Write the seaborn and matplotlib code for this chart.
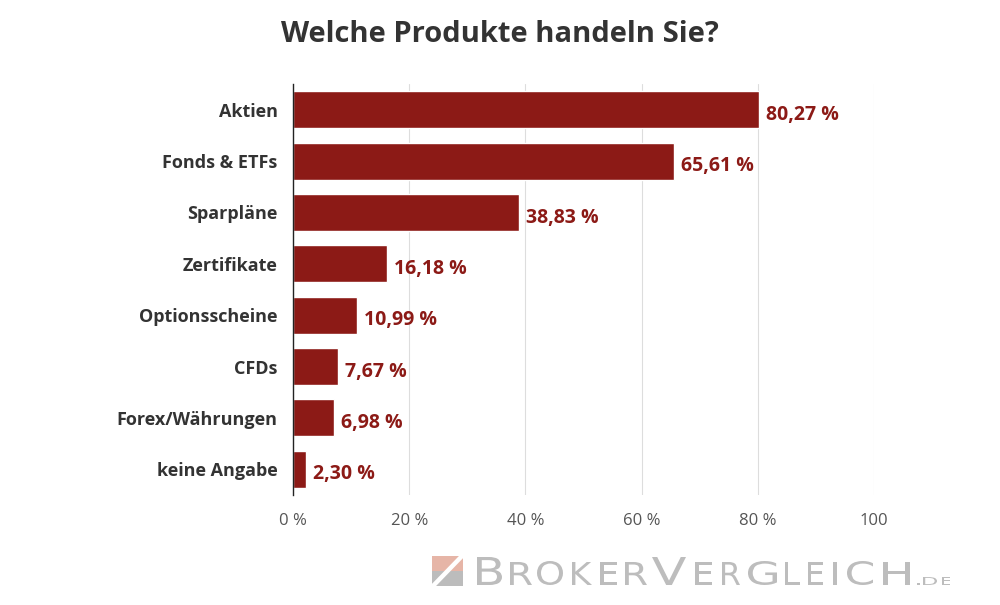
import matplotlib
matplotlib.use("Agg")
import matplotlib.pyplot as plt
import matplotlib.patches as mpatches
from matplotlib.textpath import TextPath
from matplotlib.font_manager import FontProperties
from matplotlib.transforms import Affine2D
import seaborn as sns
import pandas as pd

# Daten aus der Umfrage
produkte = ["Aktien", "Fonds & ETFs", "Sparpläne", "Zertifikate",
            "Optionsscheine", "CFDs", "Forex/Währungen", "keine Angabe"]
anteile = [80.27, 65.61, 38.83, 16.18, 10.99, 7.67, 6.98, 2.30]
tick_werte = [0, 20, 40, 60, 80, 100]
tick_texte = ["0 %", "20 %", "40 %", "60 %", "80 %", "100"]

BAR_COLOR = "#8c1a16"
TEXT_DARK = "#333333"

df = pd.DataFrame({"Produkt": produkte, "Anteil": anteile})

sns.set_theme(style="white")
plt.rcParams["font.family"] = ["Open Sans", "DejaVu Sans"]

fig = plt.figure(figsize=(10, 6.05), dpi=100)
ax = fig.add_axes([0.293, 0.182, 0.581, 0.679])

sns.barplot(data=df, x="Anteil", y="Produkt", order=produkte, color=BAR_COLOR,
            saturation=1, width=0.72, ax=ax, orient="h")

ax.set_xlim(0, 100)
ax.set_ylim(7.5, -0.5)
ax.set_xticks(tick_werte)
ax.set_xticklabels(tick_texte, fontsize=12, color="#555555")
ax.tick_params(axis="x", length=0, pad=13)
ax.tick_params(axis="y", length=0, pad=11)
for lbl in ax.get_yticklabels():
    lbl.set_fontsize(13)
    lbl.set_fontweight("bold")
    lbl.set_color(TEXT_DARK)
ax.set_xlabel("")
ax.set_ylabel("")

# vertikale Gitterlinien
for v in tick_werte[1:]:
    ax.axvline(v, color="#dddddd", lw=0.8, zorder=0)

for s in ["top", "right", "bottom"]:
    ax.spines[s].set_visible(False)
ax.spines["left"].set_color("#222222")
ax.spines["left"].set_linewidth(1.0)

# Werte an die Balken schreiben
for i, v in enumerate(anteile):
    txt = f"{v:.2f}".replace(".", ",") + " %"
    ax.text(v + 1.2, i + 0.1, txt, va="center", ha="left", fontsize=14,
            fontweight="bold", color=BAR_COLOR)

fig.text(0.5, 0.943, "Welche Produkte handeln Sie?", ha="center", va="center",
         fontsize=21, fontweight="bold", color=TEXT_DARK)

# Logo unten rechts (Pixelkoordinaten)
logo_ax = fig.add_axes([0, 0, 1, 1], facecolor="none")
logo_ax.set_xlim(0, 1000)
logo_ax.set_ylim(605, 0)
logo_ax.axis("off")
logo_ax.add_patch(mpatches.Rectangle((432, 556), 31, 15, color="#e6b5a7", lw=0))
logo_ax.add_patch(mpatches.Rectangle((432, 571), 31, 15, color="#bcbcbc", lw=0))
logo_ax.plot([432, 463], [587, 555], color="white", lw=3.2, solid_capstyle="butt")

# Buchstabe, links, rechts, oben  (Grundlinie bei y=585)
logo_buchstaben = [("B", 477, 502, 557), ("R", 510, 532, 562), ("O", 537, 563, 561),
                   ("K", 572, 592, 562), ("E", 600, 617, 562), ("R", 625, 647, 562),
                   ("V", 652, 686, 557), ("E", 695, 712, 562), ("R", 722, 740, 562),
                   ("G", 748, 777, 561), ("L", 785, 800, 562), ("E", 808, 823, 562),
                   ("I", 833, 836.5, 562), ("C", 847, 873, 561), ("H", 883, 910, 562),
                   (".", 917, 919.5, 582.5), ("D", 923, 937, 577), ("E", 942, 950, 577)]
fp = FontProperties(family="DejaVu Sans")
for ch, x0, x1, top in logo_buchstaben:
    p = TextPath((0, 0), ch, size=40, prop=fp)
    ext = p.get_extents()
    sx = (x1 - x0) / ext.width
    sy = (585 - top) / ext.height
    tr = Affine2D().translate(-ext.x0, -ext.y0).scale(sx, -sy).translate(x0, 585)
    logo_ax.add_patch(mpatches.PathPatch(tr.transform_path(p), color="#bdbdbd", lw=0))

fig.savefig("out.png", dpi=100, facecolor="white")
